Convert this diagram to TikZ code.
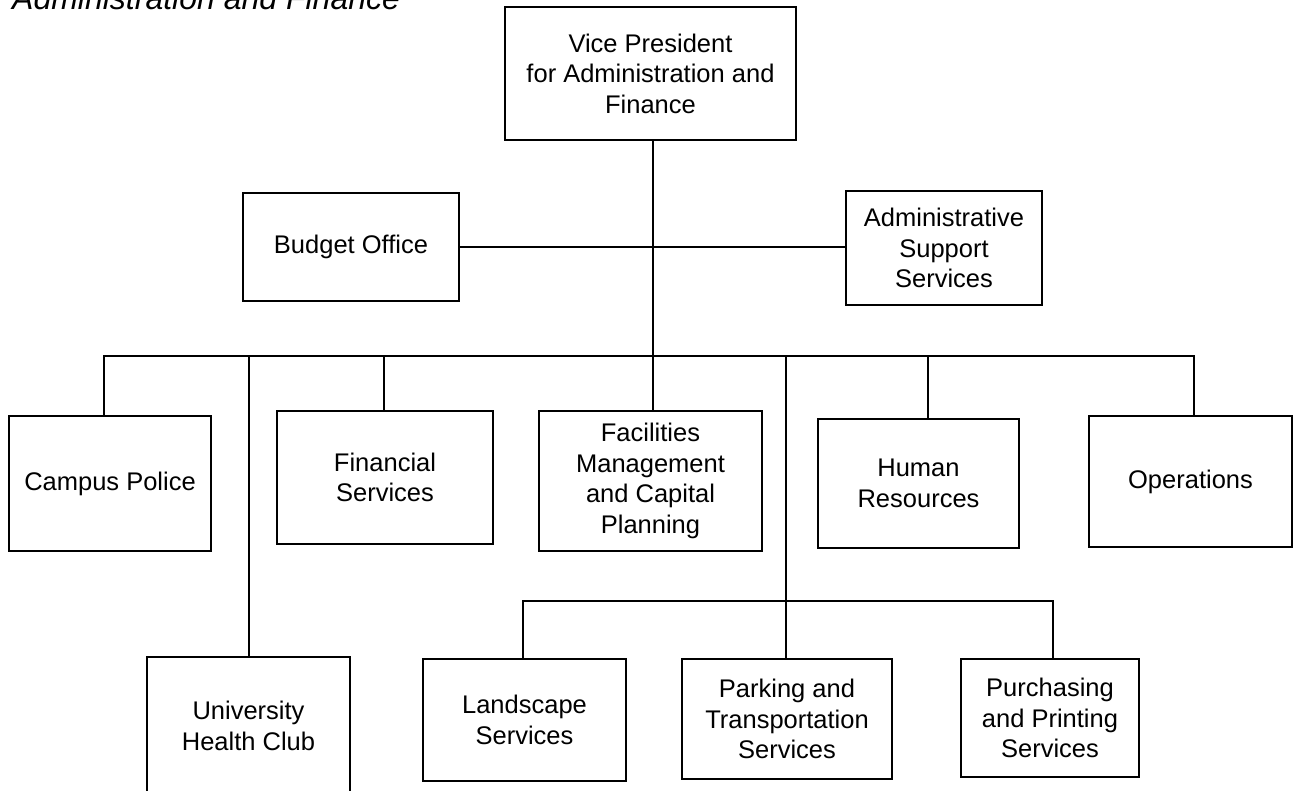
\documentclass[tikz,border=0pt]{standalone}
\usepackage{fontspec}
\setmainfont{Liberation Sans}
\begin{document}
\begin{tikzpicture}[x=1pt,y=-1pt,
  box/.style={draw,line width=1.6pt,rectangle,inner sep=0pt,align=center,
    font=\fontsize{25.5}{30.5}\selectfont},
  link/.style={line width=2.2pt,line join=miter}]
\useasboundingbox (0,0) rectangle (1296,791);
\node[anchor=base west,inner sep=0pt,font=\fontsize{32}{36}\selectfont\itshape] (title) at (12,10) {Administration and Finance};

\node[box,minimum width=291pt,minimum height=133pt] (vp) at (650.5,73.5) {Vice President\\for Administration and\\Finance};
\node[box,minimum width=216pt,minimum height=108pt] (bud) at (351,247) {Budget Office};
\node[box,minimum width=196pt,minimum height=114pt] (adm) at (944,248) {Administrative\\Support\\Services};

\node[box,minimum width=202pt,minimum height=135pt] (cp) at (110,483.5) {Campus Police};
\node[box,minimum width=216pt,minimum height=133pt] (fin) at (385,477.5) {Financial\\Services};
\node[box,minimum width=223pt,minimum height=140pt] (fac) at (650.5,481) {Facilities\\Management\\and Capital\\Planning};
\node[box,minimum width=201pt,minimum height=129pt] (hr) at (918.5,483.5) {Human\\Resources};
\node[box,minimum width=203pt,minimum height=131pt] (op) at (1190.5,481.5) {Operations};

\node[box,minimum width=203pt,minimum height=138pt] (uhc) at (248.5,726) {University\\Health Club};
\node[box,minimum width=203pt,minimum height=122pt] (land) at (524.5,720) {Landscape\\Services};
\node[box,minimum width=210pt,minimum height=120pt] (park) at (787,719) {Parking and\\Transportation\\Services};
\node[box,minimum width=178pt,minimum height=118pt] (pur) at (1050,718) {Purchasing\\and Printing\\Services};

\coordinate (spine) at (653,356);
\coordinate (busL) at (104,356);
\coordinate (busR) at (1194,356);
\coordinate (dUhc) at (249,356);
\coordinate (dFin) at (384,356);
\coordinate (dPark) at (786,356);
\coordinate (dHr) at (928,356);
\coordinate (subL) at (523,601);
\coordinate (subR) at (1053,601);

\draw[link] (vp.south -| spine) -- (fac.north -| spine);
\draw[link] (bud.east) -- (bud.east -| adm.west);
\draw[link] (busL |- cp.north) -- (busL) -- (busR) -- (busR |- op.north);
\draw[link] (dUhc) -- (dUhc |- uhc.north);
\draw[link] (dFin) -- (dFin |- fin.north);
\draw[link] (dHr) -- (dHr |- hr.north);
\draw[link] (dPark) -- (dPark |- park.north);
\draw[link] (subL |- land.north) -- (subL) -- (subR) -- (subR |- pur.north);
\end{tikzpicture}
\end{document}
